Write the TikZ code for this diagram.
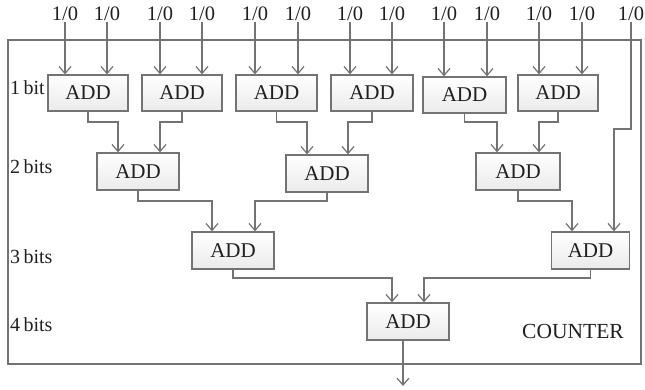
\documentclass[tikz,border=0pt]{standalone}
\usepackage{fontspec}
\setmainfont{Liberation Serif}
\usetikzlibrary{arrows.meta}
\definecolor{wire}{HTML}{737373}
\definecolor{ink}{HTML}{231F20}
\tikzset{
  wirestyle/.style={draw=wire, line width=1.3pt},
  arr/.style={wirestyle, -{Straight Barb[length=7pt,width=12pt,line width=1.2pt]}},
  addbox/.style={draw=wire, line width=1.3pt, top color=white, bottom color=black!8,
    minimum height=36pt, inner sep=0pt, text=ink,
    font=\fontsize{21}{25}\selectfont},
  inlabel/.style={text=ink, inner sep=1pt, font=\fontsize{20.5}{24}\selectfont},
  lvl/.style={text=ink, anchor=west, inner sep=0pt, font=\fontsize{20}{24}\selectfont},
}
\begin{document}
\begin{tikzpicture}[x=1pt, y=-1pt]
\useasboundingbox (0,0) rectangle (645,390);

% enclosing frame of the counter
\draw[draw=wire, line width=1.2pt] (8,40) rectangle (641,364);
\node[text=ink, font=\fontsize{21.5}{25}\selectfont] (title) at (573,331) {COUNTER};

% level labels
\node[lvl] (l1) at (10,88) {1\,bit};
\node[lvl] (l2) at (10,167) {2\,bits};
\node[lvl] (l3) at (10,257) {3\,bits};
\node[lvl] (l4) at (10,325) {4\,bits};

% 1-bit adders
\node[addbox, minimum width=80pt] (a1) at (88,93) {ADD};
\node[addbox, minimum width=80pt] (a2) at (182,93) {ADD};
\node[addbox, minimum width=81pt] (a3) at (276.5,93) {ADD};
\node[addbox, minimum width=82pt] (a4) at (372,93) {ADD};
\node[addbox, minimum width=83pt] (a5) at (464.5,95) {ADD};
\node[addbox, minimum width=80pt] (a6) at (558,93) {ADD};

% 2-bit adders
\node[addbox, minimum width=82pt, minimum height=37pt] (b1) at (138,171.5) {ADD};
\node[addbox, minimum width=82pt, minimum height=37pt] (b2) at (327,173.5) {ADD};
\node[addbox, minimum width=84pt, minimum height=37pt] (b3) at (518,171.5) {ADD};

% 3-bit adders
\node[addbox, minimum width=82pt, minimum height=37pt] (c1) at (233,250.5) {ADD};
\node[addbox, minimum width=78pt, minimum height=37pt] (c2) at (590.5,250.5) {ADD};

% 4-bit adder
\node[addbox, minimum width=82pt, minimum height=37pt] (d) at (408,321.5) {ADD};
\coordinate (out) at (403,386);

% single-bit inputs
\foreach \n/\x in {1/65,2/107,3/160,4/202,5/255,6/298,7/350,8/392,9/444,10/487,11/539,12/582,13/631}
  \node[inlabel] (i\n) at (\x,14) {1/0};

\draw[arr] (i1.south) -- (i1.south |- a1.north);
\draw[arr] (i2.south) -- (i2.south |- a1.north);
\draw[arr] (i3.south) -- (i3.south |- a2.north);
\draw[arr] (i4.south) -- (i4.south |- a2.north);
\draw[arr] (i5.south) -- (i5.south |- a3.north);
\draw[arr] (i6.south) -- (i6.south |- a3.north);
\draw[arr] (i7.south) -- (i7.south |- a4.north);
\draw[arr] (i8.south) -- (i8.south |- a4.north);
\draw[arr] (i9.south) -- (i9.south |- a5.north);
\draw[arr] (i10.south) -- (i10.south |- a5.north);
\draw[arr] (i11.south) -- (i11.south |- a6.north);
\draw[arr] (i12.south) -- (i12.south |- a6.north);
\draw[arr] (i13.south) -- (i13.south |- 0,129) -| (c2.north -| 614,0);

% 1-bit sums into 2-bit adders
\draw[arr] (a1.south) -- (a1.south |- 0,122) -| (b1.north -| 118,0);
\draw[arr] (a2.south) -- (a2.south |- 0,122) -| (b1.north -| 160,0);
\draw[arr] (a3.south) -- (a3.south |- 0,122) -| (b2.north -| 307,0);
\draw[arr] (a4.south) -- (a4.south |- 0,122) -| (b2.north -| 348,0);
\draw[arr] (a5.south) -- (a5.south |- 0,122) -| (b3.north -| 497,0);
\draw[arr] (a6.south) -- (a6.south |- 0,122) -| (b3.north -| 539,0);

% 2-bit sums into 3-bit adders
\draw[arr] (b1.south) -- (b1.south |- 0,201) -| (c1.north -| 212,0);
\draw[arr] (b2.south) -- (b2.south |- 0,201) -| (c1.north -| 255,0);
\draw[arr] (b3.south) -- (b3.south |- 0,201) -| (c2.north -| 572,0);

% 3-bit sums into the 4-bit adder
\draw[arr] (c1.south) -- (c1.south |- 0,278) -| (d.north -| 392,0);
\draw[arr] (c2.south) -- (c2.south |- 0,278) -| (d.north -| 424,0);

% counter output
\draw[arr] (d.south -| out) -- (out);
\end{tikzpicture}
\end{document}
